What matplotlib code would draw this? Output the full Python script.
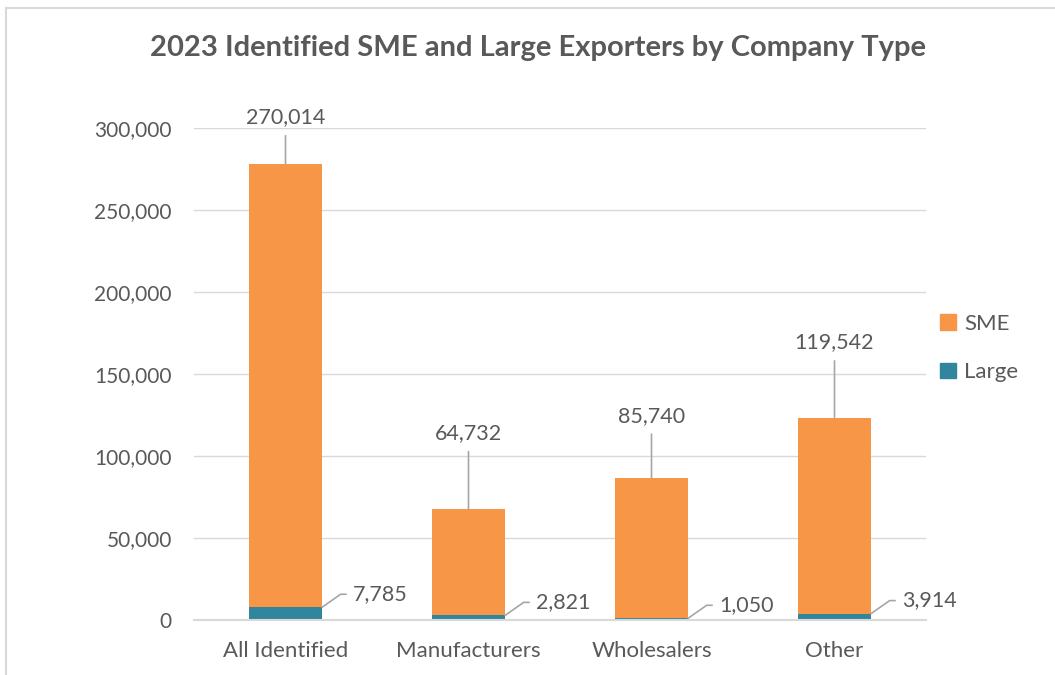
import matplotlib
matplotlib.use("Agg")
import matplotlib.pyplot as plt
from matplotlib.patches import Patch
from matplotlib.lines import Line2D
import numpy as np

categories = ["All Identified", "Manufacturers", "Wholesalers", "Other"]
large = [7785, 2821, 1050, 3914]
sme = [270014, 64732, 85740, 119542]
yticks = [0, 50000, 100000, 150000, 200000, 250000, 300000]

# label placement (pixels above bar top) for the SME labels, picked by eye
sme_label_off = [47, 76, 62, 75]

orange = "#F79646"
teal = "#31859C"
txt = "#595959"
grid = "#D9D9D9"

plt.rcParams["font.family"] = ["Lato", "DejaVu Sans"]

fig = plt.figure(figsize=(10.55, 6.75), dpi=100)
ax = fig.add_axes([194 / 1055, 55 / 675, 732 / 1055, 492 / 675])

x = np.arange(len(categories))
w = 0.4
ax.bar(x, large, w, color=teal, zorder=3, label="Large")
ax.bar(x, sme, w, bottom=large, color=orange, zorder=3, label="SME")

ax.set_xlim(-0.5, len(categories) - 0.5)
ax.set_ylim(0, 300000)
ax.set_yticks(yticks)
ax.set_yticklabels([f"{v:,}" for v in yticks])
ax.set_xticks(x)
ax.set_xticklabels(categories)
ax.tick_params(axis="y", length=0, pad=16, labelsize=15, labelcolor=txt)
ax.tick_params(axis="x", length=0, pad=15, labelsize=16, labelcolor=txt)
ax.grid(axis="y", color=grid, linewidth=1, zorder=0)
for s in ["top", "right", "left"]:
    ax.spines[s].set_visible(False)
ax.spines["bottom"].set_color(grid)
ax.spines["bottom"].set_linewidth(1.5)
ax.spines["bottom"].set_zorder(4)

lead = "#A6A6A6"
for i in range(len(categories)):
    top = large[i] + sme[i]
    ax.annotate(f"{sme[i]:,}", xy=(x[i], top), xytext=(0, sme_label_off[i]),
                textcoords="offset pixels", ha="center", va="center",
                fontsize=15.5, color=txt, zorder=5,
                arrowprops=dict(arrowstyle="-", color=lead, lw=1.2,
                                shrinkA=4, shrinkB=0))
    ax.annotate(f"{large[i]:,}", xy=(x[i] + w / 2, large[i]), xytext=(31, 13),
                textcoords="offset pixels", ha="left", va="center",
                fontsize=15.5, color=txt, zorder=5,
                arrowprops=dict(arrowstyle="-", color=lead, lw=1.2,
                                shrinkA=3, shrinkB=0, relpos=(0, 0.5),
                                connectionstyle="angle,angleA=180,angleB=35,rad=0"))

handles = [Patch(color=orange, label="SME"), Patch(color=teal, label="Large")]
fig.legend(handles=handles, loc="center left", bbox_to_anchor=(920 / 1055, 1 - 348 / 675),
           frameon=False, fontsize=16, labelcolor=txt, handlelength=0.7,
           handleheight=0.7, handletextpad=0.4, labelspacing=1.3)

fig.text(538 / 1055, 1 - 48 / 675, "2023 Identified SME and Large Exporters by Company Type",
         ha="center", va="center", fontsize=21, fontweight="bold", color=txt)

# chart frame (only top and left edges are visible in the original)
fig.add_artist(Line2D([6 / 1055, 6 / 1055], [0, 1 - 8 / 675], color=grid, lw=1.5,
                      transform=fig.transFigure))
fig.add_artist(Line2D([6 / 1055, 1], [1 - 8 / 675, 1 - 8 / 675], color=grid, lw=1.5,
                      transform=fig.transFigure))

fig.savefig("out.png", dpi=100)
